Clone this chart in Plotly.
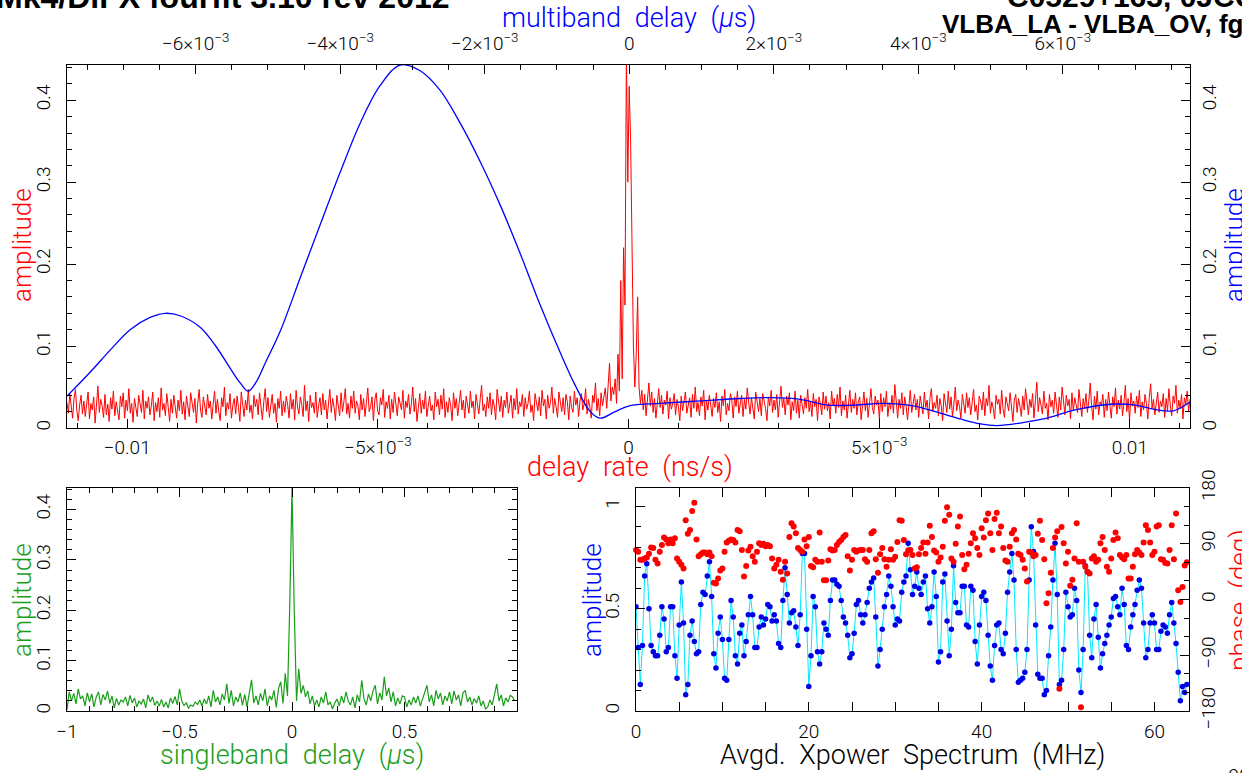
import plotly.graph_objects as go

# ---------------- data ----------------
# delay-rate amplitude (red), evenly sampled over the rate axis
rate_start = -0.0112
rate_stop = 0.0112
rate_amp = [
    0.031, 0.018, 0.042, 0.025, 0.012, 0.036, 0.047, 0.021, 0.009, 0.028, 0.040, 0.017, 0.033, 0.014, 0.026, 0.044, 0.011, 0.030, 0.022, 0.038,
    0.006, 0.024, 0.051, 0.019, 0.035, 0.027, 0.013, 0.041, 0.016, 0.029, 0.008, 0.037, 0.023, 0.045, 0.015, 0.032, 0.020, 0.010, 0.039, 0.026,
    0.043, 0.012, 0.034, 0.021, 0.048, 0.018, 0.030, 0.007, 0.036, 0.025, 0.014, 0.040, 0.028, 0.019, 0.046, 0.011, 0.033, 0.024, 0.038, 0.016,
    0.027, 0.044, 0.009, 0.031, 0.020, 0.037, 0.013, 0.049, 0.022, 0.030, 0.015, 0.042, 0.026, 0.008, 0.035, 0.018, 0.040, 0.029, 0.012, 0.034,
    0.021, 0.046, 0.017, 0.032, 0.010, 0.039, 0.025, 0.014, 0.043, 0.028, 0.019, 0.036, 0.006, 0.030, 0.047, 0.022, 0.013, 0.038, 0.027, 0.016,
    0.041, 0.024, 0.033, 0.011, 0.029, 0.045, 0.018, 0.035, 0.020, 0.009, 0.037, 0.026, 0.050, 0.015, 0.031, 0.023, 0.042, 0.012, 0.028, 0.036,
    0.017, 0.039, 0.025, 0.008, 0.044, 0.030, 0.014, 0.034, 0.022, 0.047, 0.019, 0.028, 0.011, 0.040, 0.026, 0.035, 0.016, 0.043, 0.021, 0.010,
    0.032, 0.048, 0.020, 0.037, 0.013, 0.027, 0.041, 0.018, 0.030, 0.007, 0.036, 0.024, 0.045, 0.015, 0.033, 0.019, 0.039, 0.028, 0.012, 0.042,
    0.023, 0.035, 0.010, 0.046, 0.026, 0.017, 0.038, 0.029, 0.014, 0.052, 0.021, 0.033, 0.008, 0.040, 0.025, 0.031, 0.018, 0.044, 0.013, 0.027,
    0.037, 0.016, 0.042, 0.022, 0.034, 0.011, 0.029, 0.047, 0.019, 0.036, 0.025, 0.009, 0.040, 0.028, 0.015, 0.043, 0.020, 0.032, 0.048, 0.017,
    0.030, 0.012, 0.039, 0.024, 0.045, 0.018, 0.033, 0.027, 0.010, 0.041, 0.022, 0.036, 0.014, 0.031, 0.049, 0.020, 0.026, 0.038, 0.009, 0.034,
    0.043, 0.021, 0.016, 0.037, 0.028, 0.047, 0.013, 0.032, 0.024, 0.040, 0.011, 0.035, 0.019, 0.044, 0.026, 0.015, 0.038, 0.030, 0.022, 0.046,
    0.012, 0.033, 0.025, 0.041, 0.017, 0.029, 0.050, 0.020, 0.036, 0.008, 0.027, 0.042, 0.018, 0.034, 0.023, 0.045, 0.014, 0.031, 0.039, 0.021,
    0.028, 0.010, 0.044, 0.026, 0.035, 0.016, 0.040, 0.023, 0.048, 0.013, 0.032, 0.019, 0.037, 0.027, 0.009, 0.043, 0.024, 0.036, 0.015, 0.030,
    0.046, 0.022, 0.034, 0.012, 0.039, 0.028, 0.018, 0.045, 0.025, 0.033, 0.011, 0.041, 0.030, 0.017, 0.036, 0.052, 0.021, 0.029, 0.014, 0.038,
    0.024, 0.043, 0.016, 0.035, 0.027, 0.010, 0.047, 0.031, 0.020, 0.039, 0.013, 0.034, 0.025, 0.044, 0.018, 0.029, 0.040, 0.012, 0.036, 0.022,
    0.048, 0.017, 0.032, 0.026, 0.041, 0.014, 0.037, 0.023, 0.030, 0.045, 0.019, 0.028, 0.009, 0.042, 0.033, 0.021, 0.038, 0.015, 0.046, 0.027,
    0.035, 0.011, 0.040, 0.024, 0.031, 0.050, 0.018, 0.036, 0.026, 0.013, 0.044, 0.029, 0.020, 0.037, 0.016, 0.041, 0.032, 0.010, 0.039, 0.025,
    0.019, 0.045, 0.028, 0.037, 0.014, 0.033, 0.042, 0.022, 0.030, 0.048, 0.017, 0.035, 0.026, 0.012, 0.040, 0.031, 0.055, 0.021, 0.036, 0.015,
    0.043, 0.027, 0.038, 0.049, 0.024, 0.058, 0.079, 0.033, 0.050, 0.041, 0.060, 0.030, 0.090, 0.045, 0.180, 0.060, 0.220, 0.150, 0.460, 0.300,
    0.417, 0.350, 0.190, 0.100, 0.050, 0.090, 0.160, 0.050, 0.030, 0.046, 0.022, 0.041, 0.015, 0.038, 0.055, 0.027, 0.044, 0.019, 0.036, 0.012,
    0.032, 0.048, 0.025, 0.040, 0.017, 0.034, 0.028, 0.045, 0.011, 0.037, 0.023, 0.030, 0.042, 0.016, 0.035, 0.026, 0.009, 0.039, 0.021, 0.033,
    0.044, 0.018, 0.029, 0.037, 0.013, 0.041, 0.024, 0.050, 0.020, 0.031, 0.015, 0.038, 0.027, 0.046, 0.010, 0.034, 0.022, 0.040, 0.028, 0.014,
    0.036, 0.025, 0.043, 0.019, 0.032, 0.008, 0.039, 0.027, 0.047, 0.016, 0.030, 0.021, 0.042, 0.034, 0.012, 0.038, 0.026, 0.045, 0.018, 0.029,
    0.040, 0.014, 0.035, 0.023, 0.049, 0.031, 0.017, 0.037, 0.026, 0.011, 0.044, 0.028, 0.020, 0.036, 0.015, 0.042, 0.033, 0.024, 0.009, 0.038,
    0.027, 0.046, 0.019, 0.034, 0.022, 0.041, 0.013, 0.030, 0.051, 0.025, 0.036, 0.016, 0.039, 0.028, 0.043, 0.010, 0.032, 0.021, 0.045, 0.018,
    0.034, 0.012, 0.040, 0.029, 0.017, 0.037, 0.024, 0.047, 0.020, 0.033, 0.014, 0.042, 0.026, 0.035, 0.009, 0.038, 0.030, 0.016, 0.044, 0.023,
    0.039, 0.021, 0.031, 0.011, 0.045, 0.027, 0.036, 0.018, 0.041, 0.025, 0.050, 0.015, 0.033, 0.022, 0.040, 0.012, 0.029, 0.046, 0.019, 0.035,
    0.024, 0.043, 0.016, 0.032, 0.038, 0.010, 0.027, 0.044, 0.021, 0.036, 0.013, 0.030, 0.048, 0.025, 0.017, 0.039, 0.028, 0.034, 0.011, 0.042,
    0.020, 0.037, 0.026, 0.045, 0.014, 0.031, 0.023, 0.040, 0.018, 0.053, 0.029, 0.012, 0.035, 0.024, 0.043, 0.016, 0.038, 0.027, 0.010, 0.033,
    0.046, 0.019, 0.030, 0.041, 0.022, 0.035, 0.013, 0.039, 0.028, 0.017, 0.044, 0.025, 0.034, 0.011, 0.037, 0.048, 0.020, 0.031, 0.024, 0.040,
    0.015, 0.036, 0.027, 0.009, 0.042, 0.032, 0.019, 0.045, 0.023, 0.038, 0.014, 0.029, 0.050, 0.021, 0.034, 0.026, 0.012, 0.041, 0.030, 0.018,
    0.043, 0.025, 0.037, 0.016, 0.031, 0.047, 0.020, 0.028, 0.010, 0.039, 0.033, 0.022, 0.044, 0.015, 0.036, 0.027, 0.052, 0.018, 0.032, 0.024,
    0.011, 0.040, 0.029, 0.035, 0.017, 0.046, 0.023, 0.013, 0.038, 0.030, 0.021, 0.043, 0.026, 0.008, 0.034, 0.041, 0.019, 0.036, 0.027, 0.014,
    0.039, 0.022, 0.048, 0.031, 0.016, 0.035, 0.025, 0.042, 0.012, 0.033, 0.056, 0.020, 0.037, 0.028, 0.017, 0.045, 0.024, 0.030, 0.010, 0.041,
    0.026, 0.034, 0.018, 0.044, 0.029, 0.013, 0.038, 0.022, 0.050, 0.031, 0.016, 0.040, 0.027, 0.035, 0.011, 0.043, 0.021, 0.037, 0.025, 0.019,
    0.047, 0.030, 0.014, 0.036, 0.024, 0.042, 0.019, 0.033, 0.055, 0.027, 0.010, 0.039, 0.023, 0.045, 0.016, 0.032, 0.028, 0.041, 0.013, 0.035,
    0.021, 0.044, 0.029, 0.012, 0.038, 0.026, 0.049, 0.017, 0.034, 0.023, 0.040, 0.015, 0.031, 0.052, 0.020, 0.036, 0.009, 0.043, 0.027, 0.033,
    0.018, 0.039, 0.025, 0.046, 0.014, 0.032, 0.022, 0.041, 0.030, 0.011, 0.037, 0.054, 0.024, 0.035, 0.016, 0.028, 0.044, 0.019, 0.033, 0.026,
    0.042, 0.013, 0.036, 0.021, 0.048, 0.027, 0.015, 0.039, 0.030, 0.052, 0.018, 0.034, 0.024, 0.041, 0.011, 0.037, 0.029, 0.045, 0.020, 0.035,
]

# multiband delay amplitude (blue), read at these delays (microseconds)
mbd_delay = [
    -7.779e-3, -7.460e-3, -7.183e-3, -6.907e-3, -6.630e-3, -6.422e-3, -6.215e-3, -5.938e-3, -5.730e-3, -5.523e-3,
    -5.384e-3, -5.273e-3, -5.163e-3, -5.038e-3, -4.830e-3, -4.554e-3, -4.277e-3, -4.000e-3, -3.723e-3, -3.446e-3,
    -3.170e-3, -2.893e-3, -2.616e-3, -2.339e-3, -2.062e-3, -1.785e-3, -1.509e-3, -1.232e-3, -0.955e-3, -0.747e-3,
    -0.540e-3, -0.401e-3, -0.194e-3, 0.0, 0.429e-3, 0.983e-3, 1.536e-3, 1.952e-3, 2.367e-3, 2.740e-3,
    3.128e-3, 3.516e-3, 3.931e-3, 4.235e-3, 4.581e-3, 4.858e-3, 5.094e-3, 5.412e-3, 5.730e-3, 6.173e-3,
    6.658e-3, 7.003e-3, 7.253e-3, 7.530e-3, 7.765e-3,
]
mbd_amp = [
    0.039, 0.068, 0.095, 0.120, 0.135, 0.140, 0.137, 0.123, 0.101, 0.073,
    0.055, 0.045, 0.056, 0.079, 0.118, 0.183, 0.248, 0.312, 0.372, 0.418,
    0.443, 0.436, 0.412, 0.372, 0.325, 0.272, 0.213, 0.150, 0.092, 0.052,
    0.020, 0.012, 0.020, 0.027, 0.030, 0.033, 0.036, 0.037, 0.035, 0.028,
    0.028, 0.030, 0.027, 0.020, 0.011, 0.005, 0.003, 0.006, 0.011, 0.022,
    0.029, 0.028, 0.023, 0.021, 0.032,
]

# singleband delay amplitude (green), step 0.01 us from -1 us
sbd_start = -1.0
sbd_step = 0.01
sbd_amp = [
    0.002, 0.038, 0.020, 0.035, 0.014, 0.044, 0.024, 0.030, 0.010, 0.036, 0.018, 0.034, 0.008, 0.028, 0.038, 0.012, 0.033, 0.022, 0.040, 0.015,
    0.030, 0.006, 0.025, 0.012, 0.022, 0.018, 0.028, 0.010, 0.031, 0.016, 0.026, 0.008, 0.020, 0.014, 0.024, 0.006, 0.032, 0.018, 0.028, 0.011,
    0.020, 0.010, 0.023, 0.008, 0.018, 0.006, 0.026, 0.015, 0.029, 0.012, 0.044, 0.020, 0.011, 0.016, 0.006, 0.012, 0.009, 0.018, 0.013, 0.022,
    0.010, 0.024, 0.014, 0.030, 0.008, 0.041, 0.018, 0.028, 0.012, 0.034, 0.022, 0.054, 0.015, 0.041, 0.010, 0.028, 0.018, 0.036, 0.011, 0.033,
    0.008, 0.040, 0.062, 0.016, 0.030, 0.012, 0.035, 0.020, 0.044, 0.010, 0.030, 0.022, 0.041, 0.007, 0.045, 0.058, 0.015, 0.075, 0.030, 0.210,
    0.443, 0.200, 0.020, 0.084, 0.035, 0.051, 0.028, 0.040, 0.014, 0.030, 0.010, 0.022, 0.008, 0.028, 0.016, 0.038, 0.012, 0.018, 0.004, 0.016,
    0.024, 0.010, 0.030, 0.016, 0.038, 0.020, 0.012, 0.028, 0.006, 0.032, 0.018, 0.061, 0.024, 0.012, 0.034, 0.020, 0.040, 0.051, 0.014, 0.036,
    0.022, 0.068, 0.030, 0.046, 0.018, 0.038, 0.010, 0.026, 0.014, 0.030, 0.028, 0.008, 0.022, 0.012, 0.028, 0.016, 0.030, 0.010, 0.024, 0.040,
    0.051, 0.018, 0.032, 0.010, 0.041, 0.024, 0.036, 0.012, 0.030, 0.020, 0.038, 0.014, 0.040, 0.022, 0.032, 0.010, 0.036, 0.041, 0.018, 0.028,
    0.012, 0.025, 0.016, 0.030, 0.010, 0.020, 0.004, 0.008, 0.022, 0.012, 0.030, 0.054, 0.020, 0.032, 0.010, 0.026, 0.018, 0.031, 0.028, 0.020,
]

# averaged cross-power spectrum, step 0.25 MHz from 0 MHz
spec_start = 0.0
spec_step = 0.25
spec_amp = [
    0.51, 0.31, 0.13, 0.32, 0.66, 0.72, 0.50, 0.32, 0.29, 0.27,
    0.27, 0.37, 0.51, 0.45, 0.29, 0.31, 0.51, 0.51, 0.27, 0.16,
    0.42, 0.63, 0.43, 0.08, 0.13, 0.37, 0.44, 0.34, 0.28, 0.29,
    0.52, 0.58, 0.57, 0.66, 0.73, 0.56, 0.28, 0.21, 0.38, 0.46,
    0.35, 0.16, 0.15, 0.35, 0.54, 0.46, 0.27, 0.23, 0.38, 0.42,
    0.27, 0.34, 0.47, 0.56, 0.47, 0.31, 0.31, 0.41, 0.46, 0.42,
    0.45, 0.52, 0.51, 0.44, 0.47, 0.44, 0.33, 0.31, 0.54, 0.70,
    0.57, 0.43, 0.48, 0.49, 0.41, 0.32, 0.47, 0.77, 0.77, 0.40,
    0.12, 0.27, 0.56, 0.51, 0.29, 0.23, 0.29, 0.43, 0.40, 0.37,
    0.54, 0.64, 0.64, 0.62, 0.61, 0.54, 0.46, 0.43, 0.37, 0.26,
    0.28, 0.38, 0.52, 0.54, 0.47, 0.43, 0.47, 0.53, 0.60, 0.63,
    0.65, 0.46, 0.22, 0.30, 0.40, 0.51, 0.57, 0.66, 0.61, 0.51,
    0.42, 0.45, 0.44, 0.58, 0.63, 0.66, 0.82, 0.69, 0.57, 0.61,
    0.68, 0.60, 0.57, 0.63, 0.66, 0.50, 0.43, 0.51, 0.68, 0.56,
    0.24, 0.29, 0.63, 0.67, 0.44, 0.27, 0.40, 0.71, 0.53, 0.48,
    0.48, 0.61, 0.61, 0.42, 0.41, 0.61, 0.59, 0.34, 0.23, 0.42,
    0.56, 0.58, 0.54, 0.37, 0.22, 0.15, 0.32, 0.42, 0.43, 0.30,
    0.28, 0.38, 0.58, 0.68, 0.77, 0.64, 0.30, 0.14, 0.15, 0.16,
    0.19, 0.30, 0.64, 0.90, 0.78, 0.42, 0.18, 0.16, 0.16, 0.08,
    0.10, 0.27, 0.41, 0.64, 0.82, 0.57, 0.13, 0.15, 0.30, 0.58,
    0.51, 0.46, 0.47, 0.60, 0.54, 0.20, 0.09, 0.30, 0.71, 0.68,
    0.37, 0.26, 0.45, 0.52, 0.36, 0.21, 0.28, 0.33, 0.37, 0.42,
    0.46, 0.55, 0.56, 0.51, 0.47, 0.60, 0.52, 0.32, 0.30, 0.41,
    0.47, 0.52, 0.59, 0.64, 0.60, 0.43, 0.26, 0.30, 0.43, 0.47,
    0.43, 0.30, 0.30, 0.39, 0.42, 0.41, 0.38, 0.47, 0.53, 0.43,
    0.33, 0.19, 0.05, 0.12, 0.09, 0.13,
]
spec_phase = [
    80, 77, 64, 64, 66, 68, 74, 84, 83, 64,
    58, 77, 88, 100, 97, 91, 97, 91, 99, 66,
    61, 56, 50, 128, 106, 112, 143, 156, 97, 70,
    73, 76, 76, 73, 76, 70, 27, 26, 34, 47,
    50, 77, 92, 95, 97, 96, 92, 112, 110, 80,
    37, 54, 79, 85, 70, 61, 77, 91, 88, 90,
    86, 88, 86, 66, 50, 56, 64, 45, 32, 61,
    42, 101, 123, 118, 107, 83, 80, 77, 97, 86,
    101, 54, 52, 64, 61, 108, 61, 31, 31, 63,
    81, 79, 80, 88, 93, 96, 101, 104, 70, 47,
    64, 80, 77, 79, 80, 80, 65, 61, 80, 107,
    110, 65, 43, 73, 83, 65, 53, 64, 81, 64,
    69, 93, 128, 127, 96, 73, 79, 80, 72, 50,
    52, 73, 83, 92, 74, 92, 119, 101, 79, 76,
    61, 68, 85, 127, 149, 137, 66, 61, 90, 118,
    134, 72, 49, 56, 74, 91, 107, 99, 83, 72,
    115, 100, 128, 139, 107, 80, 130, 140, 107, 118,
    83, 63, 61, 85, 107, 112, 97, 74, 72, 64,
    50, 29, 77, 76, 70, 72, 106, 127, 96, 65,
    -6, 10, 43, 83, 100, 110, -144, 117, 91, 58,
    77, 22, 32, 66, 123, 61, -174, 61, 53, 45,
    42, 66, 70, 61, 64, 91, 101, 80, 53, 45,
    66, 96, 108, 99, 72, 68, 65, 72, 34, 34,
    53, 73, 80, 76, 72, 92, 120, 112, 92, 72,
    77, 118, 120, 65, 64, 59, 58, 80, 120, 65,
    139, 15, -4, 20, 55, 60,
]

rate_ticks = [-0.01, -0.005, 0.0, 0.005, 0.01]
rate_ticktext = ["\u22120.01", "\u22125\u00d710<sup>\u22123</sup>", "0", "5\u00d710<sup>\u22123</sup>", "0.01"]
mbd_ticks = [-0.006, -0.004, -0.002, 0.0, 0.002, 0.004, 0.006]
mbd_ticktext = ["\u22126\u00d710<sup>\u22123</sup>", "\u22124\u00d710<sup>\u22123</sup>", "\u22122\u00d710<sup>\u22123</sup>", "0",
                "2\u00d710<sup>\u22123</sup>", "4\u00d710<sup>\u22123</sup>", "6\u00d710<sup>\u22123</sup>"]
sbd_ticks = [-1.0, -0.5, 0.0, 0.5]
sbd_ticktext = ["\u22121", "\u22120.5", "0", "0.5"]
phase_ticks = [-180, -90, 0, 90, 180]
phase_ticktext = ["\u2212180", "\u221290", "0", "90", "180"]

# ---------------- layout helpers ----------------
W, H = 1242, 773
FONT = "Roboto, DejaVu Sans, sans-serif"
WEIGHT = 300
RED = "#ff0000"
BLUE = "#0000ff"
GREEN = "#1a9e1a"
CYAN = "#00e8ff"
SP = "\u2002"


def fx(p):
    return p / W


def fy(p):
    return 1 - p / H


def axis_common(**kw):
    d = dict(showline=True, linecolor="black", linewidth=1.2, ticks="inside", ticklen=9,
             tickwidth=1, tickcolor="black", showgrid=False, zeroline=False, automargin=False,
             tickfont=dict(family=FONT, size=19, color="black", weight=WEIGHT))
    d.update(kw)
    return d


def minor(dt, tick0=0):
    return dict(ticks="inside", ticklen=5, tickwidth=1, tickcolor="black", dtick=dt, tick0=tick0, showgrid=False)


TOP_DOM_X = [fx(67), fx(1190)]
TOP_DOM_Y = [fy(428), fy(65)]
BL_DOM_X = [fx(67), fx(517)]
BR_DOM_X = [fx(636), fx(1189)]
BOT_DOM_Y = [fy(711), fy(488)]

fig = go.Figure()

fig.add_trace(go.Scatter(y=rate_amp, x0=rate_start, dx=(rate_stop - rate_start) / (len(rate_amp) - 1),
                         mode="lines", line=dict(color=RED, width=1), xaxis="x", yaxis="y",
                         showlegend=False, hoverinfo="skip"))
fig.add_trace(go.Scatter(x=mbd_delay, y=mbd_amp, mode="lines", line=dict(color=BLUE, width=1.3, shape="spline"),
                         xaxis="x2", yaxis="y2", showlegend=False, hoverinfo="skip"))
fig.add_trace(go.Scatter(y=sbd_amp, x0=sbd_start, dx=sbd_step, mode="lines", line=dict(color=GREEN, width=1.2),
                         xaxis="x3", yaxis="y3", showlegend=False, hoverinfo="skip"))
fig.add_trace(go.Scatter(y=spec_amp, x0=spec_start, dx=spec_step, mode="lines+markers",
                         line=dict(color=CYAN, width=1), marker=dict(color="#0000e6", size=5.5),
                         xaxis="x4", yaxis="y4", showlegend=False, hoverinfo="skip"))
fig.add_trace(go.Scatter(y=spec_phase, x0=spec_start, dx=spec_step, mode="markers",
                         marker=dict(color=RED, size=6), xaxis="x4", yaxis="y5",
                         showlegend=False, hoverinfo="skip", cliponaxis=False))

fig.update_layout(
    template="none",
    width=W, height=H, autosize=False,
    margin=dict(l=0, r=0, t=0, b=0, pad=0, autoexpand=False),
    paper_bgcolor="white", plot_bgcolor="white", showlegend=False,
    xaxis=axis_common(domain=TOP_DOM_X, anchor="y", range=[-0.0112, 0.0112], side="bottom",
                      tickmode="array", tickvals=rate_ticks, ticktext=rate_ticktext,
                      minor=minor(0.001), ticklabelstandoff=2),
    xaxis2=axis_common(overlaying="x", anchor="y", side="top", range=[-0.00778, 0.00776],
                       tickmode="array", tickvals=mbd_ticks, ticktext=mbd_ticktext,
                       minor=minor(0.0005), ticklabelstandoff=6),
    yaxis=axis_common(domain=TOP_DOM_Y, anchor="x", range=[0, 0.443], side="left",
                      tickmode="linear", tick0=0, dtick=0.1, tickangle=-90, minor=minor(0.02),
                      ticklabelstandoff=8),
    yaxis2=axis_common(overlaying="y", anchor="x", side="right", range=[0, 0.443],
                       tickmode="linear", tick0=0, dtick=0.1, tickangle=-90, minor=minor(0.02),
                       ticklabelstandoff=2),
    xaxis3=axis_common(domain=BL_DOM_X, anchor="y3", range=[-1, 1], mirror="allticks",
                       tickmode="array", tickvals=sbd_ticks, ticktext=sbd_ticktext,
                       minor=minor(0.1), ticklabelstandoff=3),
    yaxis3=axis_common(domain=BOT_DOM_Y, anchor="x3", range=[0, 0.443], mirror="allticks",
                       tickmode="linear", tick0=0, dtick=0.1, tickangle=-90, minor=minor(0.02),
                       ticklabelstandoff=8),
    xaxis4=axis_common(domain=BR_DOM_X, anchor="y4", range=[0, 64], mirror="allticks",
                       tickmode="linear", tick0=0, dtick=20, minor=minor(5), ticklabelstandoff=3),
    yaxis4=axis_common(domain=BOT_DOM_Y, anchor="x4", range=[0, 1.09], side="left",
                       tickmode="linear", tick0=0, dtick=0.5, tickangle=-90, minor=minor(0.1),
                       ticklabelstandoff=8),
    yaxis5=axis_common(overlaying="y4", anchor="x4", side="right", range=[-180, 180],
                       tickmode="array", tickvals=phase_ticks, ticktext=phase_ticktext,
                       tickangle=-90, minor=minor(30, -180), ticklabelstandoff=2),
)


def note(text, x, y, size=27, color="black", angle=0, xanchor="center", yanchor="middle",
         family=FONT, weight=WEIGHT):
    fig.add_annotation(text=text, x=fx(x), y=fy(y), xref="paper", yref="paper", showarrow=False,
                       textangle=angle, xanchor=xanchor, yanchor=yanchor,
                       font=dict(family=family, size=size, color=color, weight=weight))


BOLD = "Liberation Sans, Arial, sans-serif"
note("Mk4/DiFX fourfit 3.10 rev 2012", 452, -3, size=32, xanchor="right", family=BOLD, weight=700)
note("C0529+163, 0JCGYP", 1005, -3, size=30, xanchor="left", family=BOLD, weight=700)
note("VLBA_LA - VLBA_OV, fgroup X, pol RR", 940, 24, size=26, xanchor="left", family=BOLD, weight=700)
note(f"multiband{SP}delay{SP}(<i>\u03bc</i>s)", 629, 18, color=BLUE)
note(f"delay{SP}rate{SP}(ns/s)", 630, 467, color=RED)
note("amplitude", 22, 245, size=26, color=RED, angle=-90)
note("amplitude", 1234, 245, size=26, color=BLUE, angle=-90)
note("amplitude", 22, 600, size=26, color=GREEN, angle=-90)
note(f"singleband{SP}delay{SP}(<i>\u03bc</i>s)", 292, 755, color=GREEN)
note("amplitude", 592, 600, size=26, color=BLUE, angle=-90)
note(f"phase{SP}(deg)", 1239, 600, size=26, color=RED, angle=-90)
note(f"Avgd.{SP}Xpower{SP}Spectrum{SP}(MHz)", 912, 755, color="black")
note("08", 1226, 763, size=20, xanchor="left", yanchor="top")

fig.write_html("out.html", config=dict(displayModeBar=False),
               post_script="document.body.style.margin='0';document.body.style.overflow='hidden';")
